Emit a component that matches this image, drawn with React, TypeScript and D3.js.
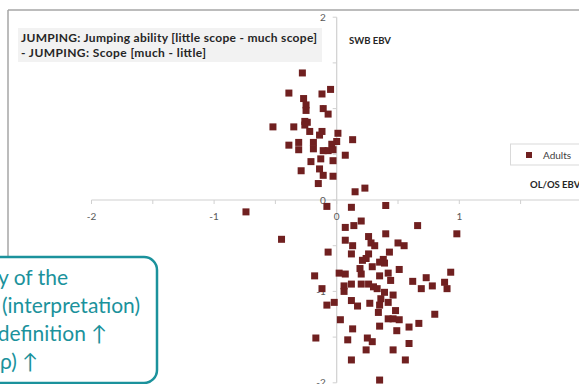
import React from 'react';
import * as d3 from 'd3';

const W = 579;
const H = 384;

const seriesName = 'Adults';
const adultsX = [
  -0.28, -0.39, -0.12, -0.05, -0.27, -0.25, -0.25, -0.11, -0.07, -0.52,
  -0.35, -0.26, -0.24, -0.26, -0.22, -0.12, -0.14, 0.01, 0.13, -0.31,
  -0.39, -0.31, -0.19, -0.19, 0.0, -0.04, -0.11, -0.07, -0.03, 0.07,
  -0.21, -0.13, -0.03, -0.29, -0.14, -0.11, -0.03, -0.15, 0.15, 0.23,
  -0.08, 0.12, 0.4, -0.74, 0.07, 0.14, 0.2, 0.66, 0.4, 0.98,
  -0.45, 0.07, 0.26, 0.28, 0.31, 0.5, 0.55, 0.13, -0.07, 0.12,
  0.43, 0.26, 0.21, 0.24, 0.38, 0.39, 0.35, 0.29, 0.19, 0.2,
  -0.18, 0.02, 0.07, 0.51, 0.42, 0.35, 0.44, 0.93, 0.73, 0.62,
  0.69, 0.78, 0.88, 0.9, -0.12, 0.06, 0.06, 0.12, 0.2, 0.26,
  0.3, 0.33, 0.39, 0.46, 0.36, 0.27, 0.35, 0.42, 0.17, -0.08,
  -0.02, 0.12, 0.34, 0.48, 0.8, 0.03, 0.42, 0.46, 0.51, 0.13,
  0.35, 0.49, 0.59, 0.67, -0.17, 0.09, 0.25, 0.29, 0.59, 0.24,
  0.46, 0.12, 0.56, 0.35,
];
const adultsY = [
  1.39, 1.17, 1.16, 1.21, 1.11, 1.04, 0.98, 1.0, 0.94, 0.8,
  0.8, 0.86, 0.85, 0.82, 0.75, 0.75, 0.71, 0.73, 0.66, 0.63,
  0.6, 0.55, 0.63, 0.56, 0.64, 0.61, 0.54, 0.54, 0.55, 0.49,
  0.42, 0.45, 0.43, 0.32, 0.34, 0.27, 0.26, 0.18, 0.09, 0.13,
  -0.07, -0.08, -0.06, -0.13, -0.3, -0.28, -0.23, -0.28, -0.37, -0.37,
  -0.43, -0.44, -0.4, -0.47, -0.5, -0.47, -0.5, -0.5, -0.57, -0.59,
  -0.57, -0.59, -0.66, -0.64, -0.65, -0.69, -0.68, -0.73, -0.75, -0.81,
  -0.83, -0.8, -0.81, -0.76, -0.8, -0.83, -0.88, -0.79, -0.85, -0.89,
  -0.97, -0.94, -0.9, -0.97, -0.97, -0.94, -1.0, -0.92, -0.92, -0.92,
  -0.95, -0.97, -1.01, -1.04, -1.08, -1.13, -1.15, -1.12, -1.16, -1.15,
  -1.12, -1.1, -1.23, -1.21, -1.25, -1.31, -1.3, -1.3, -1.31, -1.41,
  -1.38, -1.43, -1.39, -1.35, -1.51, -1.53, -1.51, -1.55, -1.57, -1.64,
  -1.64, -1.75, -1.75, -1.97,
];

const xTickLabels = [-2, -1, 0, 1];
const yTickLabels = [-2, -1, 0, 1, 2];
const minorTicks = [-2, -1.5, -1, -0.5, 0, 0.5, 1, 1.5, 2];
const titleLines = [
  'JUMPING: Jumping ability [little scope - much scope]',
  '- JUMPING: Scope [much - little]',
];
const yAxisTitle = 'SWB EBV';
const xAxisTitle = 'OL/OS EBV';
const calloutLines = ['y of the', '(interpretation)', 'definition ↑', 'ρ) ↑'];

const FONT = 'Lato, "Open Sans", sans-serif';
const MARK = '#702020';
const TEAL = '#1b929c';

export default function App() {
  const x = d3.scaleLinear().domain([-2, 2]).range([91.5, 581.9]);
  const y = d3.scaleLinear().domain([-2, 2]).range([382.8, 17.2]);
  const x0 = x(0);
  const y0 = y(0);
  const ms = 7;
  const calloutX = [68, 140, 107, 38];
  const calloutY = [285, 313, 341, 369];

  return (
    <svg
      width={W}
      height={H}
      style={{ position: 'absolute', left: 0, top: 0, background: '#fff' }}
      fontFamily={FONT}
    >
      {/* chart frame */}
      <line x1={8} x2={W} y1={10} y2={10} stroke="#a6a6a6" strokeWidth={1.5} />
      <line x1={8} x2={8} y1={10} y2={H} stroke="#a6a6a6" strokeWidth={1.5} />

      {/* title box */}
      <rect x={18} y={28} width={304} height={34} fill="#f2f2f2" />
      {titleLines.map((t, i) => (
        <text
          key={t}
          x={21}
          y={42 + i * 15}
          fontSize={12}
          fontWeight="bold"
          fill="#262626"
          textLength={i === 0 ? 296 : 185}
        >
          {t}
        </text>
      ))}

      {/* axes */}
      <line x1={x(-2)} x2={x(2)} y1={y0} y2={y0} stroke="#d0d0d0" strokeWidth={1.2} />
      <line x1={x0} x2={x0} y1={y(2)} y2={y(-2)} stroke="#d0d0d0" strokeWidth={1.2} />
      {minorTicks.map((v) => (
        <line key={'xt' + v} x1={x(v)} x2={x(v)} y1={y0} y2={y0 + 4} stroke="#d0d0d0" />
      ))}
      {minorTicks.map((v) => (
        <line key={'yt' + v} x1={x0 - 4} x2={x0} y1={y(v)} y2={y(v)} stroke="#d0d0d0" />
      ))}
      {xTickLabels.map((v) => (
        <text key={'xl' + v} x={x(v)} y={y0 + 19.5} fontSize={10} fill="#595959" textAnchor="middle">
          {v}
        </text>
      ))}
      {yTickLabels.map((v) => (
        <text key={'yl' + v} x={x0 - 11} y={y(v) + 3.5} fontSize={10} fill="#595959" textAnchor="end">
          {v}
        </text>
      ))}

      <text x={349} y={44} fontSize={9.5} fontWeight="bold" fill="#262626">
        {yAxisTitle}
      </text>
      <text x={530} y={188} fontSize={9.5} fontWeight="bold" fill="#262626">
        {xAxisTitle}
      </text>

      {/* legend */}
      <rect x={510.5} y={144} width={80} height={21} fill="#fff" stroke="#d9d9d9" />
      <rect x={526} y={152} width={6} height={6} fill={MARK} />
      <text x={543} y={158.5} fontSize={10} fill="#404040">
        {seriesName}
      </text>

      {/* points */}
      {adultsX.map((v, i) => (
        <rect
          key={'p' + i}
          x={x(v) - ms / 2}
          y={y(adultsY[i]) - ms / 2}
          width={ms}
          height={ms}
          fill={MARK}
        />
      ))}

      {/* overlay callout */}
      <rect x={-30} y={257} width={187} height={126} rx={13} ry={13} fill="#fff" stroke={TEAL} strokeWidth={2.5} />
      {calloutLines.map((t, i) => (
        <text key={t} x={calloutX[i]} y={calloutY[i]} fontSize={21} fill={TEAL} textAnchor="end">
          {t}
        </text>
      ))}
    </svg>
  );
}
